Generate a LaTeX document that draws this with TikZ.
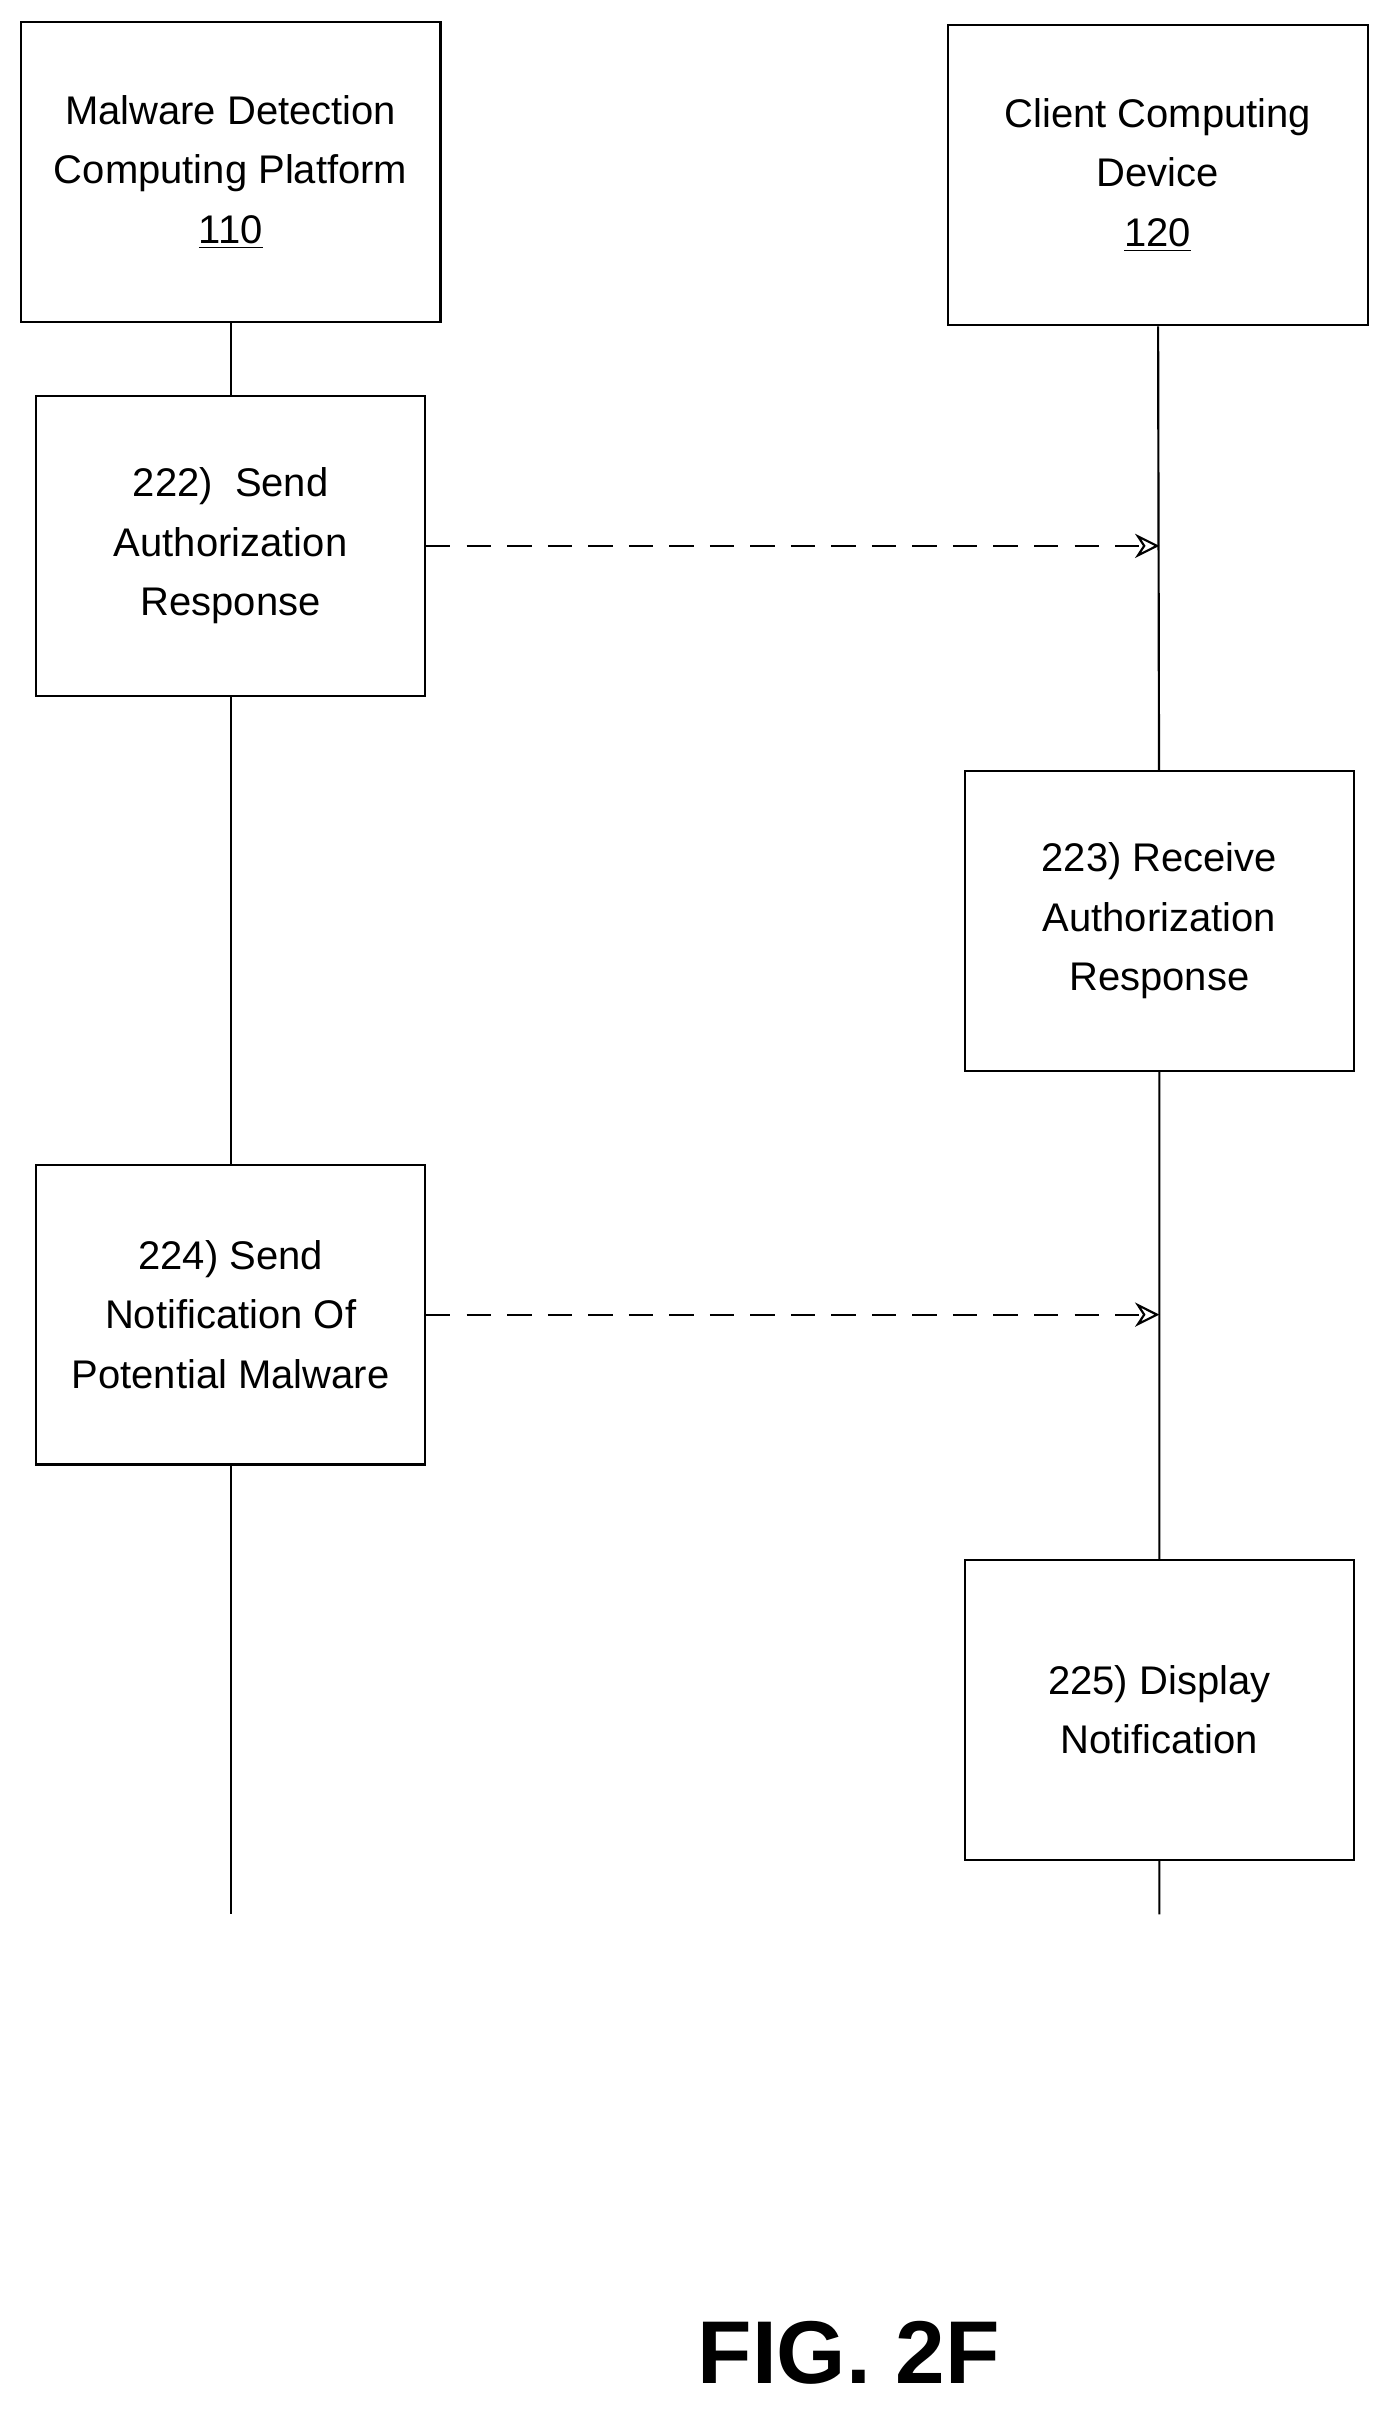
\documentclass[tikz,border=0pt]{standalone}
\usepackage{fontspec}
\setmainfont{Liberation Sans}
\usetikzlibrary{arrows.meta,positioning}

\begin{document}
\begin{tikzpicture}[x=0.02cm,y=-0.02cm,
    box/.style={draw,line width=0.8pt,minimum width=5.06cm,minimum height=3.9cm,align=center,
      font=\fontsize{14.8}{22}\selectfont},
    msg/.style={dashed,dash pattern=on 9pt off 6pt,line width=0.8pt,-{Stealth[open,length=9pt,width=9pt]}}]
    \useasboundingbox (0,0) rectangle (907,1570);
    \node[box,minimum width=5.46cm] (p110) at (150,112) {Malware Detection\\Computing Platform\\\underline{110}};
    \node[box,minimum width=5.46cm] (d120) at (753,114) {Client Computing\\Device\\\underline{120}};
    \node[box] (s222) at (150,355) {222)\ \ Send\\Authorization\\Response};
    \node[box] (s223) at (754,599) {223) Receive\\Authorization\\Response};
    \node[box] (s224) at (150,855) {224) Send\\Notification Of\\Potential Malware};
    \node[box] (s225) at (754,1112) {225) Display\\Notification};
    \coordinate (endL) at (150,1245);
    \coordinate (endR) at (754,1245);
    \coordinate (r222) at (754,355);
    \coordinate (r224) at (754,855);
    % lifelines
    \draw[line width=0.8pt] (p110) -- (s222) (s222) -- (s224) (s224) -- (endL);
    \draw[line width=0.8pt] (d120) -- (s223) (s223) -- (s225) (s225) -- (endR);
    % messages
    \draw[msg] (s222.east) -- (r222);
    \draw[msg] (s224.east) -- (r224);
    \node[font=\fontsize{33}{38}\bfseries] (fig) at (552,1530) {FIG. 2F};
\end{tikzpicture}
\end{document}
